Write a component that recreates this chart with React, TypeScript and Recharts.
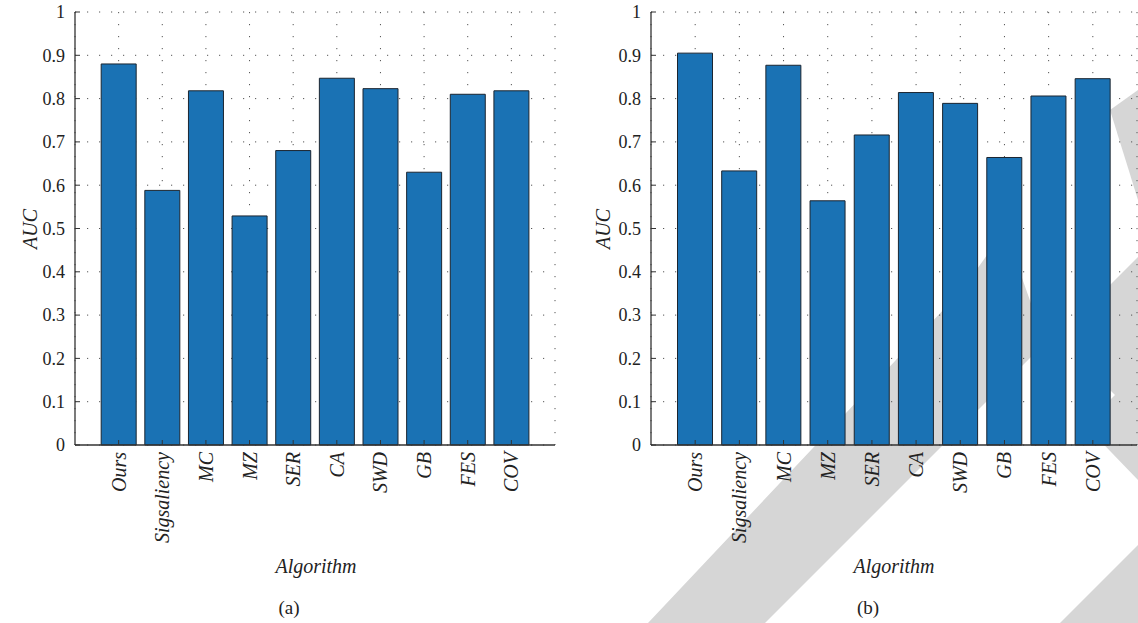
import { Bar, BarChart, CartesianGrid, XAxis, YAxis } from "recharts";

const algorithms = ["Ours", "Sigsaliency", "MC", "MZ", "SER", "CA", "SWD", "GB", "FES", "COV"];
const aucA = [0.88, 0.588, 0.818, 0.529, 0.68, 0.847, 0.823, 0.63, 0.81, 0.818];
const aucB = [0.905, 0.633, 0.877, 0.564, 0.716, 0.814, 0.789, 0.664, 0.806, 0.846];
const yTicks = [0, 0.1, 0.2, 0.3, 0.4, 0.5, 0.6, 0.7, 0.8, 0.9, 1];

const font = "Times New Roman, Times, Liberation Serif, serif";
const frame = "#333";

const fmt = (v: number) => {
    const s = v.toFixed(1);
    return s.endsWith(".0") ? s.slice(0, -2) : s;
};

const YTick = (props: any) => {
    const { x, y, payload } = props;
    return (
        <g>
            <text x={x} y={y} dy="0.35em" textAnchor="end" style={{ fontFamily: font, fontSize: 18 }} fill="#222">
                {fmt(payload.value)}
            </text>
            <line x1={x + 10} x2={x + 15} y1={y} y2={y} stroke={frame} />
        </g>
    );
};

const XTick = (props: any) => {
    const { x, y, payload } = props;
    return (
        <g>
            <line x1={x} x2={x} y1={y - 7} y2={y - 12} stroke={frame} />
            <text
                x={x}
                y={y}
                dy="0.35em"
                textAnchor="end"
                transform={`rotate(-90, ${x}, ${y})`}
                style={{ fontFamily: font, fontSize: 20, fontStyle: "italic" }}
                fill="#222"
            >
                {payload.value}
            </text>
        </g>
    );
};

interface PanelProps {
    values: number[];
    left: number;
    width: number;
    marginLeft: number;
    marginRight: number;
    pad: number;
}

function Panel({ values, left, width, marginLeft, marginRight, pad }: PanelProps) {
    const data = algorithms.map((name, i) => ({ name, auc: values[i] }));
    return (
        <div style={{ position: "absolute", left, top: 0 }}>
            <BarChart
                width={width}
                height={623}
                data={data}
                margin={{ top: 12, right: marginRight, bottom: 98, left: marginLeft }}
                barCategoryGap="10%"
            >
                <CartesianGrid strokeDasharray="1.2 10.8" stroke="#555" />
                <XAxis
                    dataKey="name"
                    interval={0}
                    padding={{ left: pad, right: pad }}
                    height={80}
                    tickSize={0}
                    tickMargin={7}
                    tickLine={false}
                    axisLine={{ stroke: frame, strokeWidth: 1.3 }}
                    tick={<XTick />}
                />
                <XAxis
                    xAxisId="top"
                    dataKey="name"
                    orientation="top"
                    interval={0}
                    padding={{ left: pad, right: pad }}
                    height={0}
                    mirror
                    tickSize={5}
                    tick={false}
                    tickLine={{ stroke: frame }}
                    axisLine={{ stroke: frame, strokeWidth: 1.3 }}
                />
                <YAxis
                    domain={[0, 1]}
                    ticks={yTicks}
                    width={60}
                    tickSize={0}
                    tickMargin={10}
                    tickLine={false}
                    axisLine={{ stroke: frame, strokeWidth: 1.3 }}
                    tick={<YTick />}
                />
                <YAxis
                    yAxisId="right"
                    orientation="right"
                    domain={[0, 1]}
                    ticks={yTicks}
                    width={0}
                    mirror
                    tickSize={5}
                    tick={false}
                    tickLine={{ stroke: frame }}
                    axisLine={{ stroke: frame, strokeWidth: 1.3 }}
                />
                <Bar dataKey="auc" fill="#1a72b4" stroke="#1b2530" strokeWidth={1} isAnimationActive={false} />
            </BarChart>
        </div>
    );
}

const labelStyle: React.CSSProperties = {
    position: "absolute",
    fontFamily: font,
    fontSize: 20,
    color: "#222",
    whiteSpace: "nowrap",
    transform: "translate(-50%, -50%)",
    lineHeight: 1,
};

export default function App() {
    return (
        <div style={{ position: "absolute", left: 0, top: 0, width: 1138, height: 623, background: "#fff", overflow: "hidden" }}>
            <svg width={1138} height={623} style={{ position: "absolute", left: 0, top: 0 }}>
                <g fill="#d6d6d6">
                    <polygon points="648,623 765,623 1045,343 1005,230 962,290" />
                    <polygon points="1060,623 1138,623 1138,545" />
                    <polygon points="1105,290 1138,257 1138,480 1085,425 1115,395 1080,360" />
                    <polygon points="1110,110 1138,90 1138,200" />
                </g>
            </svg>
            <Panel values={aucA} left={0} width={570} marginLeft={15} marginRight={15} pad={480 / 22} />
            <Panel values={aucB} left={580} width={558} marginLeft={11} marginRight={1} pad={486 / 22} />
            <div style={{ ...labelStyle, left: 30, top: 229, fontStyle: "italic", transform: "translate(-50%, -50%) rotate(-90deg)" }}>AUC</div>
            <div style={{ ...labelStyle, left: 603, top: 229, fontStyle: "italic", transform: "translate(-50%, -50%) rotate(-90deg)" }}>AUC</div>
            <div style={{ ...labelStyle, left: 316, top: 566, fontStyle: "italic" }}>Algorithm</div>
            <div style={{ ...labelStyle, left: 894, top: 566, fontStyle: "italic" }}>Algorithm</div>
            <div style={{ ...labelStyle, left: 289, top: 607, fontSize: 19 }}>(a)</div>
            <div style={{ ...labelStyle, left: 868, top: 607, fontSize: 19 }}>(b)</div>
        </div>
    );
}
